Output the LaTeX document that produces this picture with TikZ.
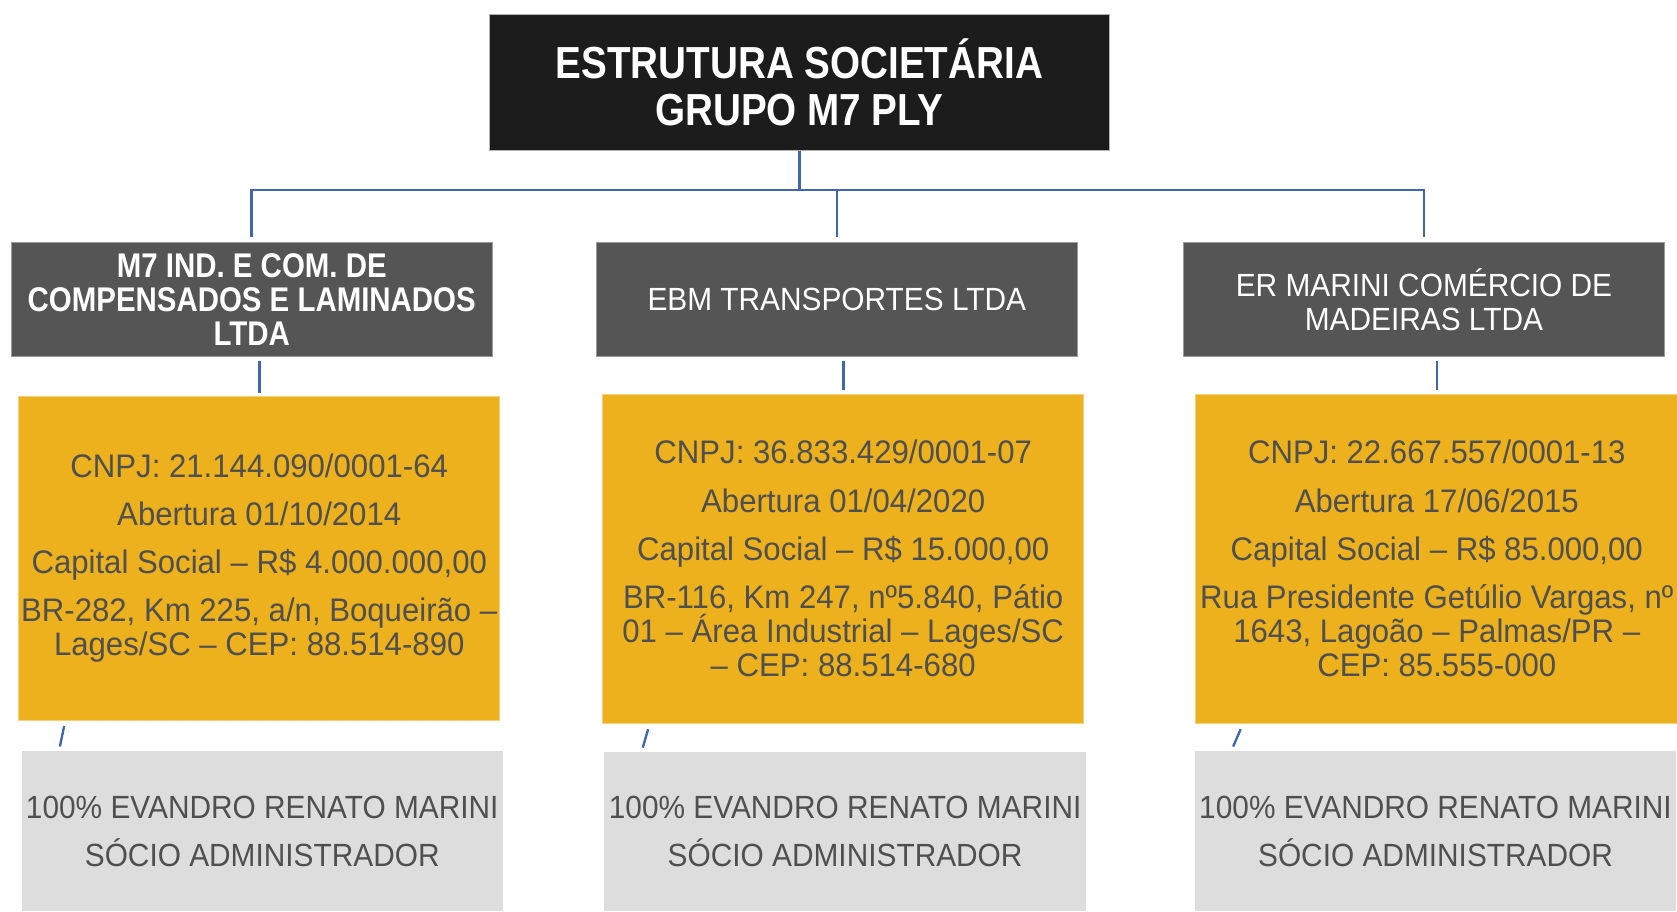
\documentclass[tikz,border=0pt]{standalone}
\usepackage{fontspec}
\setmainfont{Liberation Sans}
\newfontfamily\narrowfont[FakeStretch=0.93]{Liberation Sans}
\newfontfamily\infofont[FakeStretch=0.955]{Liberation Sans}
\newfontfamily\condfont[FakeStretch=0.86]{Liberation Sans}
\definecolor{titlebg}{HTML}{1C1C1C}
\definecolor{compbg}{HTML}{555555}
\definecolor{compbd}{HTML}{9A9A9A}
\definecolor{infobg}{HTML}{ECB11C}
\definecolor{infobd}{HTML}{F4D07A}
\definecolor{ownbg}{HTML}{DDDDDD}
\definecolor{txtgray}{HTML}{4F4F4F}
\definecolor{linkblue}{HTML}{3F66AE}
\tikzset{
  titlebox/.style={fill=titlebg, draw=gray!60, line width=0.8pt, text=white, align=center,
    minimum width=580, minimum height=127, inner sep=0pt, anchor=north west,
    font=\condfont\bfseries\fontsize{42}{44}\selectfont},
  compbox/.style={fill=compbg, draw=compbd, line width=0.8pt, text=white, align=center,
    minimum width=450, minimum height=107, inner sep=0pt, anchor=north west,
    font=\narrowfont\fontsize{30}{32}\selectfont},
  compbold/.style={compbox, font=\condfont\bfseries\fontsize{32}{32}\selectfont},
  infobox/.style={fill=infobg, draw=infobd, line width=0.8pt, text=txtgray, align=center,
    minimum width=450, inner sep=0pt, anchor=north west,
    font=\infofont\fontsize{30.5}{32}\selectfont},
  ownbox/.style={fill=ownbg, draw=none, text=txtgray, align=center,
    minimum width=450, inner sep=0pt, anchor=north west,
    font=\narrowfont\fontsize{30}{45}\selectfont},
  link/.style={draw=linkblue, line width=2.4pt},
  tick/.style={draw=linkblue, line width=2.2pt}
}
\begin{document}
\begin{tikzpicture}[x=1pt,y=1pt]
\useasboundingbox (0,0) rectangle (1568,-852);
\fill[white] (0,0) rectangle (1568,-852);

% title
\node[titlebox] (title) at (457,-13) {ESTRUTURA SOCIETÁRIA\\GRUPO M7 PLY};

% companies
\node[compbold] (c1) at (10,-226) {M7 IND. E COM. DE\\COMPENSADOS E LAMINADOS\\LTDA};
\node[compbox] (c2) at (557,-226) {EBM TRANSPORTES LTDA};
\node[compbox] (c3) at (1106,-226) {ER MARINI COMÉRCIO DE\\MADEIRAS LTDA};

% info boxes
\node[infobox, minimum height=303] (i1) at (17,-370) {CNPJ: 21.144.090/0001-64\\[13pt]Abertura 01/10/2014\\[13pt]Capital Social – R\$ 4.000.000,00\\[13pt]BR-282, Km 225, a/n, Boqueirão –\\Lages/SC – CEP: 88.514-890};
\node[infobox, minimum height=308] (i2) at (563,-368) {CNPJ: 36.833.429/0001-07\\[13pt]Abertura 01/04/2020\\[13pt]Capital Social – R\$ 15.000,00\\[13pt]BR-116, Km 247, nº5.840, Pátio\\01 – Área Industrial – Lages/SC\\– CEP: 88.514-680};
\node[infobox, minimum height=308, minimum width=452] (i3) at (1117,-368) {CNPJ: 22.667.557/0001-13\\[13pt]Abertura 17/06/2015\\[13pt]Capital Social – R\$ 85.000,00\\[13pt]Rua Presidente Getúlio Vargas, nº\\1643, Lagoão – Palmas/PR –\\CEP: 85.555-000};

% owner boxes
\node[ownbox, minimum height=150] (o1) at (20,-702) {100\% EVANDRO RENATO MARINI\\SÓCIO ADMINISTRADOR};
\node[ownbox, minimum height=149] (o2) at (565,-703) {100\% EVANDRO RENATO MARINI\\SÓCIO ADMINISTRADOR};
\node[ownbox, minimum height=150] (o3) at (1117,-702) {100\% EVANDRO RENATO MARINI\\SÓCIO ADMINISTRADOR};

% connectors title -> companies
\coordinate (bus) at ([yshift=-37pt]title.south);
\draw[link] (title.south) -- (bus);
\draw[link] (bus) -| ([yshift=4pt]c1.north);
\draw[link] (bus) -| ([yshift=4pt]c2.north);
\draw[link] (bus) -| ([yshift=4pt]c3.north);

% companies -> info
\foreach \c/\i in {c1/i1, c2/i2, c3/i3}{
  \draw[link] ([yshift=3pt]\i.north) -- ([yshift=-4pt]\i.north |- \c.south);
}

% info -> owners (short slanted ticks)
\foreach \i/\o in {i1/o1, i2/o2, i3/o3}{
  \draw[tick] ([xshift=43pt,yshift=-5pt]\i.south west) -- ([xshift=36pt,yshift=4pt]\o.north west);
}
\end{tikzpicture}
\end{document}
